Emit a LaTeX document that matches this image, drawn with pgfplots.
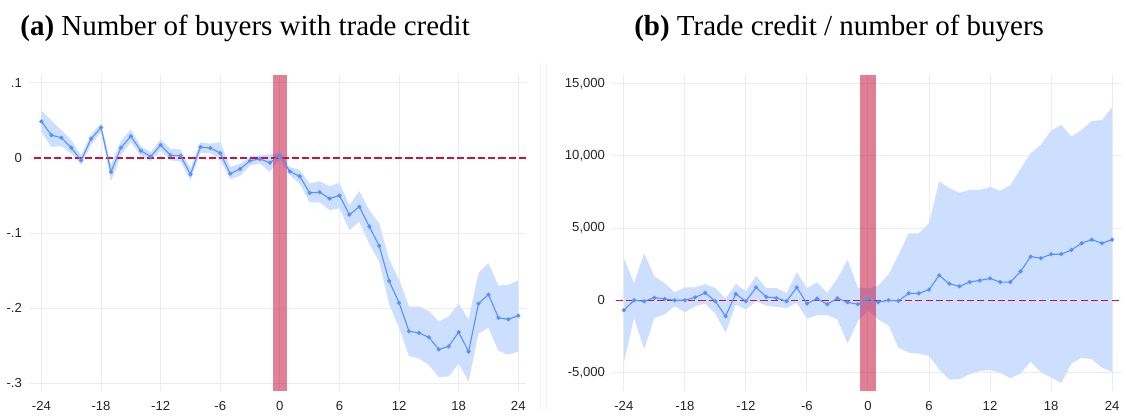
\documentclass[border=0pt]{standalone}
\usepackage{pgfplots}
\pgfplotsset{compat=1.18}
\usepackage{pgfplotstable}
\usepgfplotslibrary{fillbetween}
\usepackage{fontspec}
\setmainfont{Liberation Serif}
\newfontfamily\ticksf{Liberation Sans}
\definecolor{bandc}{RGB}{205,223,255}
\definecolor{linec}{RGB}{85,145,255}
\definecolor{barc}{RGB}{199,22,62}
\definecolor{dashc}{RGB}{200,20,60}
\definecolor{gridc}{RGB}{236,236,236}

\pgfplotstableread{
m y lo up
-24 0.0487 0.0345 0.063
-23 0.0305 0.0146 0.050
-22 0.027 0.016 0.037
-21 0.0137 0.006 0.024
-20 -0.003 -0.009 0.0035
-19 0.0257 0.0177 0.032
-18 0.0407 0.0345 0.046
-17 -0.0186 -0.031 -0.009
-16 0.0137 0.0035 0.023
-15 0.029 0.021 0.038
-14 0.0097 0.003 0.016
-13 0.002 -0.0044 0.008
-12 0.0173 0.010 0.025
-11 0.0035 -0.003 0.012
-10 0.003 -0.0044 0.0115
-9 -0.0217 -0.030 -0.014
-8 0.0146 0.007 0.021
-7 0.0133 0.007 0.019
-6 0.0066 -0.003 0.021
-5 -0.0208 -0.028 -0.012
-4 -0.0146 -0.024 -0.0075
-3 -0.0035 -0.0097 0.002
-2 -0.0013 -0.0075 0.0035
-1 -0.0062 -0.0186 0.005
0 0.0040 -0.001 0.0066
1 -0.018 -0.023 -0.012
2 -0.0243 -0.034 -0.016
3 -0.0465 -0.059 -0.034
4 -0.0456 -0.059 -0.031
5 -0.054 -0.0695 -0.0376
6 -0.050 -0.067 -0.033
7 -0.0755 -0.096 -0.063
8 -0.065 -0.085 -0.044
9 -0.0913 -0.114 -0.0695
10 -0.117 -0.138 -0.087
11 -0.164 -0.195 -0.135
12 -0.193 -0.226 -0.162
13 -0.231 -0.264 -0.198
14 -0.233 -0.267 -0.198
15 -0.239 -0.276 -0.204
16 -0.255 -0.292 -0.218
17 -0.251 -0.291 -0.211
18 -0.232 -0.274 -0.194
19 -0.258 -0.298 -0.215
20 -0.194 -0.234 -0.153
21 -0.182 -0.226 -0.140
22 -0.213 -0.257 -0.170
23 -0.215 -0.262 -0.169
24 -0.210 -0.258 -0.163
}\tabA

\pgfplotstableread{
m y lo up
-24 -688 -4313 2913
-23 0 -1216 1193
-22 -70 -3395 3257
-21 180 -1216 1652
-20 90 -986 1193
-19 0 -413 550
-18 0 -826 895
-17 200 -413 895
-16 505 -230 1124
-15 -70 -940 849
-14 -1100 -2248 115
-13 435 -298 1124
-12 -70 -642 620
-11 895 -70 1698
-10 230 -367 849
-9 160 -459 849
-8 -70 -528 505
-7 895 -184 1927
-6 -230 -1262 849
-5 115 -1032 1239
-4 -275 -1032 505
-3 140 -1330 1510
-2 -140 -3000 2820
-1 -275 -1445 895
0 90 -711 803
1 -140 -1330 1009
2 0 -1720 1766
3 -45 -3280 3143
4 480 -3624 4634
5 480 -3693 4634
6 735 -3854 5322
7 1720 -4771 8235
8 1147 -5506 7777
9 963 -5460 7432
10 1262 -5116 7639
11 1376 -4886 7639
12 1514 -4840 7845
13 1262 -5001 7593
14 1262 -5391 7960
15 1996 -5070 9107
16 3028 -4244 10185
17 2913 -5001 10759
18 3189 -5345 11745
19 3189 -5735 12135
20 3487 -4382 11332
21 3946 -3969 11791
22 4198 -4083 12410
23 3946 -4657 12479
24 4198 -4955 13351
}\tabB

\pgfplotsset{
  panel/.style={
    scale only axis,
    anchor=south west,
    height=159pt,
    axis line style={draw=none},
    tick style={draw=none},
    grid=major,
    major grid style={draw=gridc, line width=0.5pt},
    xtick={-24,-18,...,24},
    xticklabels={-24,-18,-12,-6,0,6,12,18,24},
    scaled y ticks=false,
    scaled x ticks=false,
    ticklabel style={font=\ticksf\fontsize{6.6}{7}\selectfont, text=black!85},
    xticklabel style={yshift=-1.6pt},
    yticklabel style={xshift=0.2pt},
    clip=false,
  }
}

\begin{document}
\begin{tikzpicture}
\path (0,0) rectangle (563pt,206.5pt);
\draw[draw=black!5, line width=0.4pt] (270.5pt,0) -- (270.5pt,175pt);
\draw[draw=black!5, line width=0.4pt] (273.7pt,0) -- (273.7pt,175pt);

\node[anchor=base, font=\fontsize{14.6}{16}\selectfont] at (122pt,188.5pt) {\textbf{(a)} Number of buyers with trade credit};
\node[anchor=base, font=\fontsize{14.6}{16}\selectfont] at (421pt,188.5pt) {\textbf{(b)} Trade credit / number of buyers};

\begin{axis}[panel, at={(13pt,9.5pt)}, width=250.5pt,
  xmin=-25.3, xmax=24.8, ymin=-0.311, ymax=0.110,
  ytick={-0.3,-0.2,-0.1,0,0.1},
  yticklabels={-.3,-.2,-.1,0,.1}]
  \addplot[name path=upA, draw=none, forget plot] table[x=m,y=up]{\tabA};
  \addplot[name path=loA, draw=none, forget plot] table[x=m,y=lo]{\tabA};
  \addplot[fill=bandc, draw=none] fill between[of=upA and loA];
  \addplot[dashc, line width=0.6pt, dash pattern=on 3.6pt off 1.6pt] coordinates {(-24.8,0) (24.8,0)};
  \fill[barc, opacity=0.55] (axis cs:-0.72,-0.311) rectangle (axis cs:0.72,0.110);
  \addplot[linec, line width=0.55pt, mark=*, mark size=0.75pt, mark options={fill=linec, draw=linec}] table[x=m,y=y]{\tabA};
\end{axis}

\begin{axis}[panel, at={(306.5pt,9.5pt)}, width=256.5pt,
  xmin=-25.2, xmax=24.9, ymin=-6307, ymax=15564,
  ytick={-5000,0,5000,10000,15000},
  yticklabels={{-5,000},{0},{5,000},{10,000},{15,000}}]
  \addplot[name path=upB, draw=none, forget plot] table[x=m,y=up]{\tabB};
  \addplot[name path=loB, draw=none, forget plot] table[x=m,y=lo]{\tabB};
  \addplot[fill=bandc, draw=none] fill between[of=upB and loB];
  \addplot[dashc, line width=0.6pt, dash pattern=on 3.6pt off 1.6pt] coordinates {(-24.8,0) (24.9,0)};
  \fill[barc, opacity=0.55] (axis cs:-0.75,-6307) rectangle (axis cs:0.75,15564);
  \addplot[linec, line width=0.55pt, mark=*, mark size=0.75pt, mark options={fill=linec, draw=linec}] table[x=m,y=y]{\tabB};
\end{axis}
\end{tikzpicture}
\end{document}
